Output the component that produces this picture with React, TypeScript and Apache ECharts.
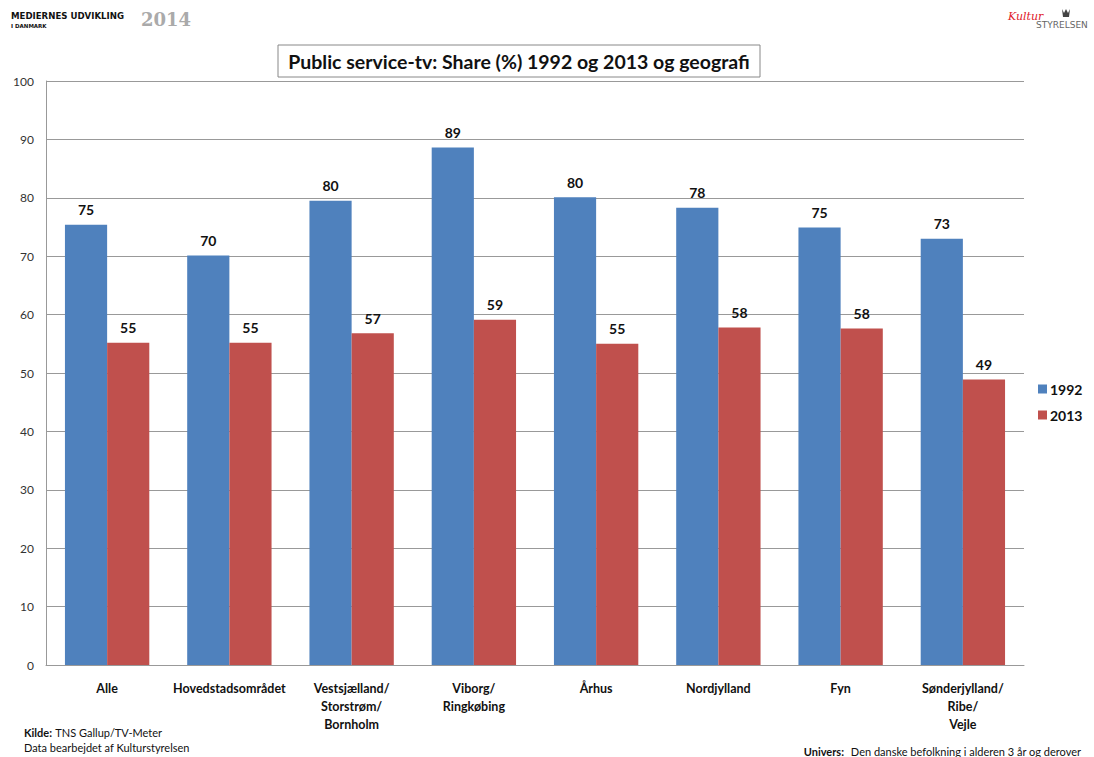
import React, { useEffect, useRef } from "react";
import * as echarts from "echarts";

const categories = [
  "Alle",
  "Hovedstadsområdet",
  "Vestsjælland/\nStorstrøm/\nBornholm",
  "Viborg/\nRingkøbing",
  "Århus",
  "Nordjylland",
  "Fyn",
  "Sønderjylland/\nRibe/\nVejle",
];
const values1992 = [75.4, 70.1, 79.5, 88.6, 80.1, 78.3, 74.9, 73.0];
const values2013 = [55.2, 55.2, 56.8, 59.1, 55.0, 57.8, 57.6, 48.9];
const seriesNames = ["1992", "2013"];
const yTicks = { min: 0, max: 100, interval: 10 };

const FONT = "Lato, 'Open Sans', sans-serif";

export default function App() {
  const ref = useRef<HTMLDivElement>(null);
  useEffect(() => {
    document.body.style.margin = "0";
    const chart = echarts.init(ref.current!, null, { renderer: "svg" });
    const labelCfg = {
      show: true,
      position: "top",
      distance: 8,
      formatter: (p: any) => String(Math.round(p.value)),
      fontFamily: FONT,
      fontWeight: "bold",
      fontSize: 14,
      color: "#111",
    };
    chart.setOption({
      animation: false,
      backgroundColor: "#fff",
      grid: { left: 46, right: 70, top: 81, bottom: 92 },
      legend: {
        orient: "vertical",
        left: 1033,
        top: 377,
        itemWidth: 9,
        itemHeight: 9,
        itemGap: 12,
        icon: "rect",
        data: seriesNames,
        textStyle: { fontFamily: FONT, fontWeight: "bold", fontSize: 14, color: "#111", padding: [0, 0, 0, -2] },
      },
      xAxis: {
        type: "category",
        data: categories,
        axisLine: { lineStyle: { color: "#999" } },
        axisTick: { show: false },
        axisLabel: {
          interval: 0,
          margin: 14,
          fontFamily: FONT,
          fontWeight: "bold",
          fontSize: 12.5,
          lineHeight: 18,
          color: "#111",
        },
      },
      yAxis: {
        type: "value",
        min: yTicks.min,
        max: yTicks.max,
        interval: yTicks.interval,
        axisLine: { show: true, lineStyle: { color: "#999" } },
        axisTick: { show: false },
        splitLine: { lineStyle: { color: "#999", width: 1 } },
        axisLabel: { fontFamily: FONT, fontSize: 12, color: "#333", margin: 12 },
      },
      series: [
        {
          name: seriesNames[0],
          type: "bar",
          data: values1992,
          barGap: "0%",
          barCategoryGap: "31%",
          itemStyle: { color: "#4F81BD" },
          label: labelCfg,
        },
        {
          name: seriesNames[1],
          type: "bar",
          data: values2013,
          itemStyle: { color: "#C0504D" },
          label: labelCfg,
        },
      ],
      graphic: [
        {
          type: "rect",
          shape: { x: 278, y: 45, width: 482, height: 32 },
          style: { fill: "#fff", stroke: "#888", lineWidth: 1 },
          z: 10,
        },
        {
          type: "text",
          x: 519,
          y: 61,
          z: 11,
          style: {
            text: "Public service-tv: Share (%) 1992 og 2013 og geografi",
            fontFamily: FONT,
            fontWeight: "bold",
            fontSize: 19.5,
            fill: "#111",
            align: "center",
            verticalAlign: "middle",
          },
        },
        {
          type: "text",
          x: 11,
          y: 11,
          style: {
            text: "MEDIERNES UDVIKLING",
            fontFamily: "'DejaVu Sans', sans-serif",
            fontWeight: "bold",
            fontSize: 8.6,
            fill: "#111",
          },
        },
        {
          type: "text",
          x: 11,
          y: 23,
          style: {
            text: "I DANMARK",
            fontFamily: "'DejaVu Sans', sans-serif",
            fontWeight: "bold",
            fontSize: 5.5,
            fill: "#111",
          },
        },
        {
          type: "text",
          x: 141,
          y: 10,
          style: {
            text: "2014",
            fontFamily: "'DejaVu Serif', serif",
            fontWeight: "bold",
            fontSize: 18,
            fill: "#aaa",
          },
        },
        {
          type: "text",
          x: 1008,
          y: 11,
          style: {
            text: "Kultur",
            fontFamily: "'DejaVu Serif', serif",
            fontStyle: "italic",
            fontSize: 11,
            fill: "#e0202a",
          },
        },
        {
          type: "polygon",
          shape: { points: [[1062, 9], [1064, 13], [1066, 9], [1068, 13], [1070, 9], [1069, 17], [1063, 17]] },
          style: { fill: "#444" },
        },
        {
          type: "text",
          x: 1036,
          y: 20,
          style: {
            text: "STYRELSEN",
            fontFamily: "'DejaVu Sans', sans-serif",
            fontSize: 9,
            fill: "#666",
          },
        },
        {
          type: "text",
          x: 24,
          y: 726,
          style: {
            rich: {
              b: { fontFamily: FONT, fontWeight: "bold", fontSize: 11, fill: "#111" },
              n: { fontFamily: FONT, fontSize: 11, fill: "#111" },
            },
            text: "{b|Kilde:} {n|TNS Gallup/TV-Meter}",
          },
        },
        {
          type: "text",
          x: 24,
          y: 742,
          style: {
            text: "Data bearbejdet af Kulturstyrelsen",
            fontFamily: FONT,
            fontSize: 11,
            fill: "#111",
          },
        },
        {
          type: "text",
          x: 1081,
          y: 745,
          style: {
            rich: {
              b: { fontFamily: FONT, fontWeight: "bold", fontSize: 11, fill: "#111" },
              n: { fontFamily: FONT, fontSize: 11, fill: "#111" },
            },
            text: "{b|Univers:}  {n|Den danske befolkning i alderen 3 år og derover}",
            align: "right",
          },
        },
      ],
    });
    return () => chart.dispose();
  }, []);
  return (
    <div
      ref={ref}
      style={{ position: "absolute", left: 0, top: 0, width: 1094, height: 757 }}
    />
  );
}
